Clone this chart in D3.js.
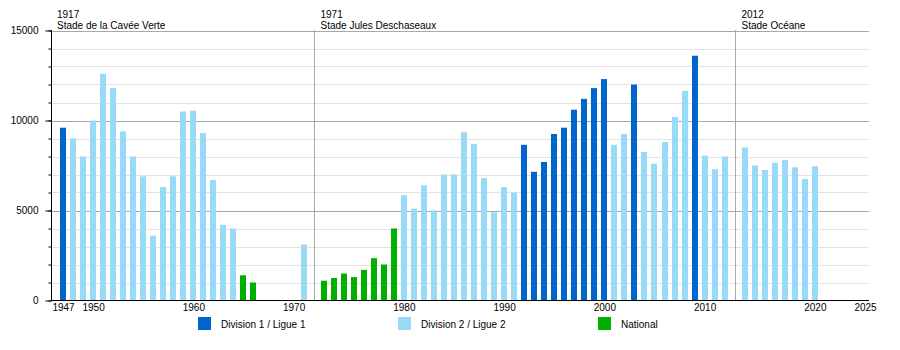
<!DOCTYPE html>
<html>
<head>
<meta charset="utf-8">
<script src="https://cdn.jsdelivr.net/npm/d3@7"></script>
<style>
  html, body { margin: 0; padding: 0; background: #fff; }
  svg text { font-family: "Liberation Sans", Arial, sans-serif; font-size: 10px; fill: #000; }
</style>
</head>
<body>
<svg id="chart" width="900" height="350"></svg>
<script>
// Average home attendance per season (labelled by the year the season ends)
const seasons = [
  1947, 1948, 1949, 1950, 1951, 1952, 1953, 1954, 1955, 1956,
  1957, 1958, 1959, 1960, 1961, 1962, 1963, 1964, 1965, 1966,
  1971, 1972, 1973, 1974, 1975, 1976, 1977, 1978, 1979, 1980,
  1981, 1982, 1983, 1984, 1985, 1986, 1987, 1988, 1989, 1990,
  1991, 1992, 1993, 1994, 1995, 1996, 1997, 1998, 1999, 2000,
  2001, 2002, 2003, 2004, 2005, 2006, 2007, 2008, 2009, 2010,
  2011, 2012, 2013, 2014, 2015, 2016, 2017, 2018, 2019, 2020
];
const attendance = [
  9600, 9000, 8000, 10000, 12600, 11800, 9400, 8000, 6900, 3600,
  6300, 6900, 10500, 10550, 9300, 6700, 4200, 4000, 1400, 1000,
  3100, 1100, 1250, 1500, 1300, 1700, 2350, 2000, 4000, 5850,
  5100, 6400, 5000, 7000, 7000, 9350, 8700, 6800, 4900, 6300,
  6000, 8650, 7150, 7700, 9250, 9600, 10600, 11200, 11800, 12300,
  8650, 9250, 12000, 8250, 7600, 8800, 10200, 11650, 13600, 8050,
  7300, 8000, 8500, 7500, 7250, 7650, 7800, 7400, 6750, 7450
];
const division = [
  "D1", "D2", "D2", "D2", "D2", "D2", "D2", "D2", "D2", "D2",
  "D2", "D2", "D2", "D2", "D2", "D2", "D2", "D2", "N", "N",
  "D2", "N", "N", "N", "N", "N", "N", "N", "N", "D2",
  "D2", "D2", "D2", "D2", "D2", "D2", "D2", "D2", "D2", "D2",
  "D2", "D1", "D1", "D1", "D1", "D1", "D1", "D1", "D1", "D1",
  "D2", "D2", "D1", "D2", "D2", "D2", "D2", "D2", "D1", "D2",
  "D2", "D2", "D2", "D2", "D2", "D2", "D2", "D2", "D2", "D2"
];

// Stadium changes
const stadiumYears = [1917, 1971, 2012];
const stadiumNames = ["Stade de la Cavée Verte", "Stade Jules Deschaseaux", "Stade Océane"];

// Axis labels
const xTickYears = [1947, 1950, 1960, 1970, 1980, 1990, 2000, 2010, 2020, 2025];
const yMajorTicks = [0, 5000, 10000, 15000];
const yMinorStep = 1000;

// Legend
const legendKeys = ["D1", "D2", "N"];
const legendLabels = ["Division 1 / Ligue 1", "Division 2 / Ligue 2", "National"];
const colors = { D1: "#0066cc", D2: "#99daf8", N: "#00b000" };

const firstYear = 1947, lastYear = 2025;
const plot = { left: 51, right: 869, top: 30, bottom: 300 };

// Category slots: one per year, plus a slot for each stadium opening inside the range
const slots = [];
for (let yr = firstYear; yr <= lastYear; yr++) {
  slots.push(String(yr));
  if (stadiumYears.includes(yr)) slots.push("stade-" + yr);
}

const x = d3.scalePoint().domain(slots).range([63, 865]);
const y = d3.scaleLinear().domain([0, 15000]).range([300.5, 30.5]);

const svg = d3.select("#chart");

// Horizontal grid lines every 1000, stronger every 5000
const gridVals = d3.range(yMinorStep, 15000 + 1, yMinorStep);
svg.append("g").selectAll("line")
  .data(gridVals)
  .join("line")
  .attr("x1", plot.left).attr("x2", plot.right)
  .attr("y1", d => Math.round(y(d)) + 0.5).attr("y2", d => Math.round(y(d)) + 0.5)
  .attr("stroke", d => d % 5000 === 0 ? "#a8a8a8" : "#e2e2e2")
  .attr("stroke-width", 1);

// Stadium markers
const stadiums = stadiumYears.map((yr, i) => ({ year: yr, name: stadiumNames[i], key: "stade-" + yr }));
const sg = svg.append("g");
stadiums.forEach(s => {
  const inRange = slots.includes(s.key);
  const sx = inRange ? Math.round(x(s.key)) + 0.5 : plot.left;
  if (inRange) {
    sg.append("line")
      .attr("x1", sx).attr("x2", sx)
      .attr("y1", plot.top).attr("y2", plot.bottom)
      .attr("stroke", "#a8a8a8").attr("stroke-width", 1);
  }
  sg.append("text").attr("x", sx + 6).attr("y", 18).text(s.year);
  sg.append("text").attr("x", sx + 6).attr("y", 29).text(s.name);
});

// Bars
const rows = seasons.map((yr, i) => ({ year: yr, value: attendance[i], div: division[i] }));
svg.append("g").selectAll("rect")
  .data(rows)
  .join("rect")
  .attr("x", d => Math.round(x(String(d.year)) - 3))
  .attr("width", 6)
  .attr("y", d => y(d.value))
  .attr("height", d => y(0) - y(d.value))
  .attr("fill", d => colors[d.div]);

// Y axis: minor and major ticks
const yMinor = d3.axisLeft(y)
  .tickValues(d3.range(0, 15000 + 1, yMinorStep))
  .tickSize(3).tickFormat("");
svg.append("g").attr("transform", `translate(${plot.left + 0.5},0)`).call(yMinor)
  .call(g => g.select(".domain").remove())
  .call(g => g.selectAll("line").attr("stroke", "#000"));

const yMajor = d3.axisLeft(y)
  .tickValues(yMajorTicks)
  .tickSize(6).tickPadding(7)
  .tickFormat(d3.format("d"));
svg.append("g").attr("transform", `translate(${plot.left + 0.5},0)`).call(yMajor)
  .call(g => g.select(".domain").remove())
  .call(g => g.selectAll("line").attr("stroke", "#000"))
  .call(g => g.selectAll("text").attr("font-family", null).attr("font-size", null));

// X axis labels
const xAxis = d3.axisBottom(x)
  .tickValues(xTickYears.map(String))
  .tickSize(0).tickPadding(4);
svg.append("g").attr("transform", `translate(0,${plot.bottom})`).call(xAxis)
  .call(g => g.select(".domain").remove())
  .call(g => g.selectAll("text").attr("font-family", null).attr("font-size", null));

// Axis lines
svg.append("line")
  .attr("x1", plot.left + 0.5).attr("x2", plot.left + 0.5)
  .attr("y1", plot.top).attr("y2", plot.bottom + 0.5)
  .attr("stroke", "#000");
svg.append("line")
  .attr("x1", plot.left).attr("x2", plot.right)
  .attr("y1", plot.bottom + 0.5).attr("y2", plot.bottom + 0.5)
  .attr("stroke", "#000");

// Legend
const legend = svg.append("g").selectAll("g")
  .data(legendKeys)
  .join("g")
  .attr("transform", (d, i) => `translate(${198 + i * 200},317)`);
legend.append("rect").attr("width", 13).attr("height", 13).attr("fill", d => colors[d]);
legend.append("text").attr("x", 23).attr("y", 11).text((d, i) => legendLabels[i]);
</script>
</body>
</html>
